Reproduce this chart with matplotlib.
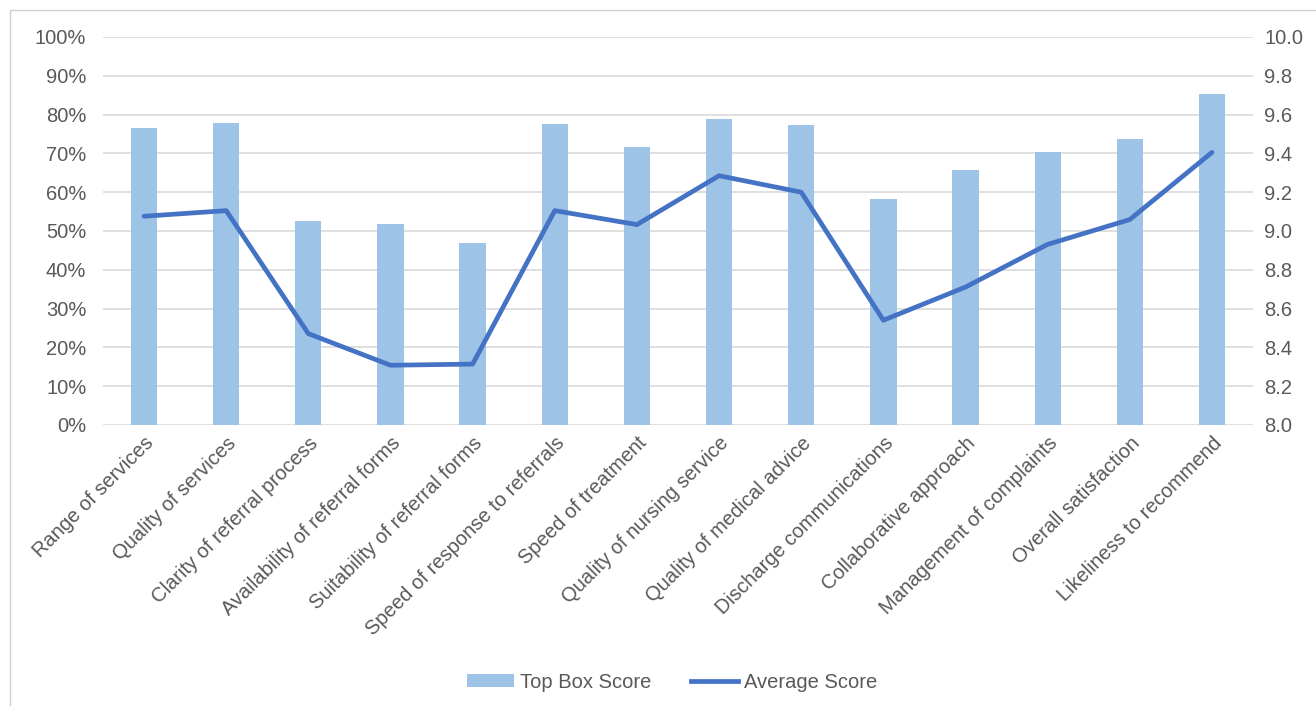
import matplotlib
matplotlib.use("Agg")
import matplotlib.pyplot as plt
from matplotlib.patches import Rectangle
from matplotlib.lines import Line2D
from matplotlib.patches import Patch
import numpy as np

categories = ["Range of services", "Quality of services", "Clarity of referral process",
              "Availability of referral forms", "Suitability of referral forms",
              "Speed of response to referrals", "Speed of treatment",
              "Quality of nursing service", "Quality of medical advice",
              "Discharge communications", "Collaborative approach",
              "Management of complaints", "Overall satisfaction",
              "Likeliness to recommend"]
top_box = [76.6, 77.8, 52.6, 51.8, 47.0, 77.5, 71.6, 78.8, 77.2, 58.2, 65.6, 70.4, 73.8, 85.4]
avg_score = [9.076, 9.105, 8.471, 8.308, 8.314, 9.105, 9.033, 9.285, 9.200, 8.540, 8.711, 8.931, 9.059, 9.405]
left_ticks = [0, 10, 20, 30, 40, 50, 60, 70, 80, 90, 100]
right_ticks = [8.0, 8.2, 8.4, 8.6, 8.8, 9.0, 9.2, 9.4, 9.6, 9.8, 10.0]

plt.rcParams['font.family'] = ['Liberation Sans', 'DejaVu Sans']
text_c = '#595959'
fs = 14.5
W, H = 1316, 706
fig = plt.figure(figsize=(W/100, H/100), dpi=100)
fig.patches.append(Rectangle((10/W, -0.01), 1.02, (H-10)/H + 0.01, transform=fig.transFigure,
                             fill=False, edgecolor='#D0D0D0', linewidth=1.0, zorder=0))

ax = fig.add_axes([103/W, (H-425)/H, (1253-103)/W, (425-37)/H])
x = np.arange(len(categories))
ax.bar(x, top_box, width=0.32, color='#9DC3E6', zorder=2)
ax.set_xlim(-0.5, len(categories)-0.5)
ax.set_ylim(0, 100)
ax.set_yticks(left_ticks)
ax.set_yticklabels([f"{t}%" for t in left_ticks])
ax.grid(axis='y', color='#D9D9D9', linewidth=1.2, zorder=0)
ax.set_axisbelow(True)
for s in ax.spines.values():
    s.set_visible(False)
ax.tick_params(axis='both', length=0, labelsize=fs, colors=text_c, pad=12)
ax.set_xticks(x)
ax.set_xticklabels(categories, rotation=45, ha='right', rotation_mode='anchor')
ax.tick_params(axis='x', pad=6)

ax2 = ax.twinx()
ax2.plot(x, avg_score, color='#4472C4', linewidth=3.4, solid_capstyle='round', zorder=3)
ax2.set_ylim(8.0, 10.0)
ax2.set_yticks(right_ticks)
ax2.set_yticklabels([f"{t:.1f}" for t in right_ticks])
for s in ax2.spines.values():
    s.set_visible(False)
ax2.tick_params(axis='y', length=0, labelsize=fs, colors=text_c, pad=8)

handles = [Patch(facecolor='#9DC3E6', edgecolor='none'),
           Line2D([0], [0], color='#4472C4', linewidth=3.4)]
fig.legend(handles, ["Top Box Score", "Average Score"], loc='center',
           bbox_to_anchor=(672/W, (H-682)/H), ncol=2, frameon=False,
           fontsize=fs, labelcolor=text_c, handlelength=2.3, handletextpad=0.3,
           columnspacing=2.0, handleheight=0.6)

fig.savefig("out.png", dpi=100)
